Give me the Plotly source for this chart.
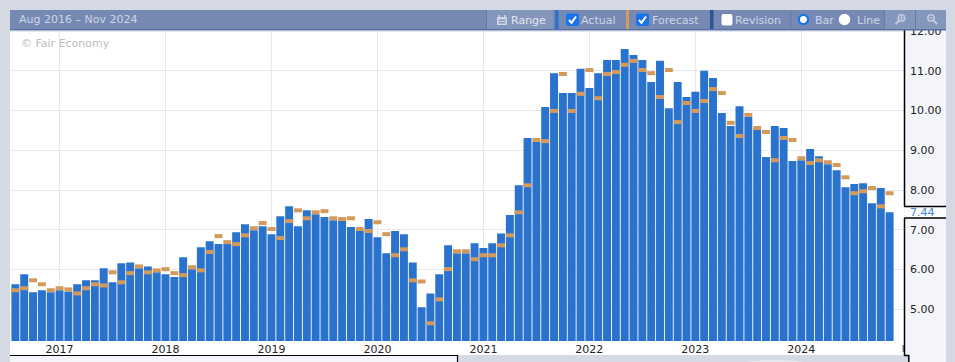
import pandas as pd
import plotly.graph_objects as go

months = [d.strftime("%b %Y") for d in pd.date_range("2016-08-01", periods=100, freq="MS")]
actual = [5.63,5.88,5.43,5.48,5.43,5.48,5.45,5.63,5.73,5.73,6.03,5.68,6.16,6.18,6.03,6.08,5.93,5.88,5.81,6.31,6.01,6.56,6.71,6.64,6.64,6.94,
          7.14,6.99,7.09,6.89,7.34,7.59,7.09,7.49,7.39,7.32,7.24,7.22,7.07,6.97,7.27,6.81,6.41,6.97,6.89,6.18,5.05,5.40,5.88,6.61,6.41,6.41,
          6.66,6.54,6.66,6.91,7.37,8.12,9.31,9.21,10.09,10.94,10.44,10.44,11.05,10.57,10.94,11.27,11.27,11.55,11.40,11.27,10.72,11.25,10.06,10.72,10.34,10.47,
          11.00,10.82,9.94,9.61,10.11,9.84,9.51,8.83,9.61,9.56,8.73,8.75,9.03,8.85,8.65,8.50,8.07,8.15,8.17,7.67,8.05,7.44]
forecast = [5.48,5.53,5.73,5.63,5.48,5.53,5.50,5.40,5.53,5.63,5.60,5.93,5.68,5.91,6.08,5.93,5.98,6.01,5.91,5.86,6.06,5.98,6.44,6.84,6.69,6.64,
            6.86,7.04,7.17,7.02,6.79,7.22,7.49,7.29,7.44,7.47,7.29,7.27,7.29,7.02,6.97,7.19,6.89,6.36,6.51,5.73,5.70,4.65,5.25,6.01,6.46,6.46,
            6.26,6.36,6.36,6.61,6.86,7.44,8.12,9.26,9.23,9.99,10.92,9.99,10.42,11.02,10.31,10.92,10.97,11.15,11.25,11.02,10.94,10.34,11.02,9.71,10.19,9.99,
            10.24,10.54,10.44,9.69,9.36,9.89,9.56,9.46,8.75,9.31,9.26,8.80,8.68,8.75,8.70,8.63,8.32,7.92,7.97,8.05,7.59,7.92]
year_ticks = ["Jan 2017","Jan 2018","Jan 2019","Jan 2020","Jan 2021","Jan 2022","Jan 2023","Jan 2024"]
year_labels = ["2017","2018","2019","2020","2021","2022","2023","2024"]
y_ticks = [5,6,7,8,9,10,11,12]
y_labels = ["5.00","6.00","7.00","8.00","9.00","10.00","11.00","12.00"]

W, H = 955, 362
L, R, T, B = 10, 904, 30, 341
FONT = "DejaVu Sans"
BG = "#d5d9e3"; PANEL = "#f4f5fa"; HEAD = "#7589b3"; HEAD2 = "#8496bb"
BLUE = "#2973cf"; ORANGE = "#d39a5c"; NAVY = "#2f5490"; TXT = "#ced5e6"

def px(x): return (x - L) / (R - L)
def py(y): return (B - y) / (B - T)

shapes = []
def rect(x0, y0, x1, y1, color, layer="above"):
    shapes.append(dict(type="rect", xref="paper", yref="paper", x0=px(x0), x1=px(x1), y0=py(y1), y1=py(y0),
                       fillcolor=color, line=dict(width=0), layer=layer))
def line(x0, y0, x1, y1, color, w=1.0, layer="above"):
    shapes.append(dict(type="line", xref="paper", yref="paper", x0=px(x0), x1=px(x1), y0=py(y0), y1=py(y1),
                       line=dict(color=color, width=w), layer=layer))
def circle(cx, cy, r, fill, stroke=None, w=0):
    shapes.append(dict(type="circle", xref="paper", yref="paper", x0=px(cx-r), x1=px(cx+r), y0=py(cy+r), y1=py(cy-r),
                       fillcolor=fill, line=dict(color=stroke or fill, width=w), layer="above"))
def path(pts, fill=None, stroke=None, w=1.0, close=False):
    d = "M" + " L".join(f"{px(a):.5f},{py(b):.5f}" for a, b in pts) + (" Z" if close else "")
    shapes.append(dict(type="path", xref="paper", yref="paper", path=d, fillcolor=fill or "rgba(0,0,0,0)",
                       line=dict(color=stroke or "rgba(0,0,0,0)", width=w), layer="above"))
def rrect(x0, y0, x1, y1, r, fill, stroke=None, w=0):
    d = (f"M{px(x0+r):.5f},{py(y0):.5f} L{px(x1-r):.5f},{py(y0):.5f} Q{px(x1):.5f},{py(y0):.5f} {px(x1):.5f},{py(y0+r):.5f} "
         f"L{px(x1):.5f},{py(y1-r):.5f} Q{px(x1):.5f},{py(y1):.5f} {px(x1-r):.5f},{py(y1):.5f} "
         f"L{px(x0+r):.5f},{py(y1):.5f} Q{px(x0):.5f},{py(y1):.5f} {px(x0):.5f},{py(y1-r):.5f} "
         f"L{px(x0):.5f},{py(y0+r):.5f} Q{px(x0):.5f},{py(y0):.5f} {px(x0+r):.5f},{py(y0):.5f} Z")
    shapes.append(dict(type="path", xref="paper", yref="paper", path=d, fillcolor=fill,
                       line=dict(color=stroke or fill, width=w), layer="above"))

# chart surround (beneath the plot)
rect(10, 341, 904, 355, "#ffffff", "below")
rect(904, 30, 946, 355, PANEL, "below")
rect(905, 207, 946, 218, "#ffffff", "below")
rect(10, 355, 458, 362, PANEL, "below")
rect(909, 355, 946, 362, PANEL, "below")
# right axis rules and stepped frame
line(904.5, 30, 904.5, 206.5, "#000000", 1.5)
line(904, 206.5, 946, 206.5, "#000000", 1.5)
line(904, 218, 946, 218, "#000000", 1.5)
line(904.5, 218, 904.5, 356, "#000000", 1.5)
line(904, 355.5, 909, 355.5, "#000000", 1.5)
line(908.8, 355, 908.8, 362, "#000000", 1.5)
line(10, 355.5, 458, 355.5, "#000000", 1.2)
line(457.5, 355, 457.5, 362, "#000000", 1.2)
line(903.2, 345, 903.2, 352, "#333333", 1)
shapes.append(dict(type="circle", xref="paper", yref="paper", x0=px(737), x1=px(812), y0=py(372), y1=py(360),
                   fillcolor="#e6e8ef", line=dict(width=0), layer="above"))
# header strip
rect(10, 10, 946, 29, HEAD)
rect(10, 29, 946, 30.5, "#5a70a2")
rect(487, 10, 553, 29, HEAD2)
for sx in (486.5, 791, 884.5, 915.5):
    line(sx, 10, sx, 29, "#647aa8", 1)
rect(885, 10, 915, 29, HEAD2)
rect(916, 10, 946, 29, HEAD2)
rect(555, 10, 558.5, 29, BLUE)
rect(626, 10, 629, 29, ORANGE)
rect(710, 10, 713.5, 29, NAVY)
# Range icon
rect(497, 17, 507, 25, TXT)
rect(498.5, 19.5, 505.5, 21, HEAD2)
rect(498.5, 22, 505.5, 23.5, HEAD2)
rect(498.5, 15, 500, 18, TXT)
rect(504, 15, 505.5, 18, TXT)
# checkboxes
for x0 in (566, 636):
    rrect(x0, 13.5, x0 + 13, 26, 2.5, "#1a73e8")
    path([(x0 + 3, 20), (x0 + 5.5, 22.8), (x0 + 10, 16.5)], stroke="#ffffff", w=2)
rrect(721, 13.5, 733, 26, 2.5, "#ffffff", "#6c80ab", 1)
# radios
circle(803.5, 19.5, 4.6, "#ffffff", "#1a73e8", 2.2)
circle(844.5, 19.5, 5.8, "#ffffff")
# zoom icons
for cx, cy in ((901.5, 18), (931, 18)):
    circle(cx, cy, 3.2, "rgba(0,0,0,0)", "#c3cbdf", 1.6)
    line(cx - 2.5 if cx < 915 else cx + 2.5, cy + 2.5, cx - 6 if cx < 915 else cx + 6, cy + 6, "#c3cbdf", 2)
line(899.5, 18, 903.5, 18, "#c3cbdf", 1)
line(901.5, 16, 901.5, 20, "#c3cbdf", 1)
line(929, 18, 933, 18, "#c3cbdf", 1)

def text(x, y, s, color, size=11, anchor="left"):
    return dict(xref="paper", yref="paper", x=px(x), y=py(y), text=s, showarrow=False, xanchor=anchor, yanchor="middle",
                font=dict(family=FONT, size=size, color=color), borderpad=0, borderwidth=0)

annotations = [
    text(19, 19.5, "Aug 2016 – Nov 2024", TXT),
    text(20.5, 43, "© Fair Economy", "#bdbdbd"),
    text(510.5, 20, "Range", "#e3e7f0"),
    text(581, 20, "Actual", TXT),
    text(652, 20, "Forecast", TXT),
    text(735, 20, "Revision", TXT),
    text(815, 20, "Bar", TXT),
    text(857, 20, "Line", TXT),
    text(910, 212.5, f"{actual[-1]:.2f}", "#3f88da"),
]

fig = go.Figure()
fig.add_bar(x=months, y=actual, name="Actual", marker=dict(color=BLUE, line=dict(width=0)), width=0.9)
fig.add_scatter(x=months, y=forecast, name="Forecast", mode="markers", cliponaxis=True,
                marker=dict(symbol="line-ew", size=5.7, color=ORANGE, line=dict(color=ORANGE, width=4)))
fig.update_layout(
    width=W, height=H, autosize=False, showlegend=False,
    margin=dict(l=L, r=W - R, t=T, b=H - B, pad=0, autoexpand=False),
    paper_bgcolor=BG, plot_bgcolor="#ffffff",
    font=dict(family=FONT, size=11, color="#222222"),
    shapes=shapes, annotations=annotations, bargap=0.1,
    xaxis=dict(type="category", categoryorder="array", categoryarray=months, range=[-0.61, 100.63], automargin=False,
               tickmode="array", tickvals=year_ticks, ticktext=year_labels, showgrid=True, gridcolor="#e6e7ef", gridwidth=1,
               ticks="", zeroline=False, showline=False,
               tickfont=dict(family=FONT, size=11, color="#222222")),
    yaxis=dict(side="right", range=[4.203, 12.026], tickmode="array", tickvals=y_ticks, ticktext=y_labels, automargin=False,
               showgrid=True, gridcolor="#e6e7ef", gridwidth=1, ticks="", zeroline=False, showline=False,
               tickfont=dict(family=FONT, size=11, color="#222222"), ticklabelstandoff=5),
)
fig.write_html("out.html", config={"displayModeBar": False},
               post_script="document.body.style.margin='0';document.body.style.overflow='hidden';")
